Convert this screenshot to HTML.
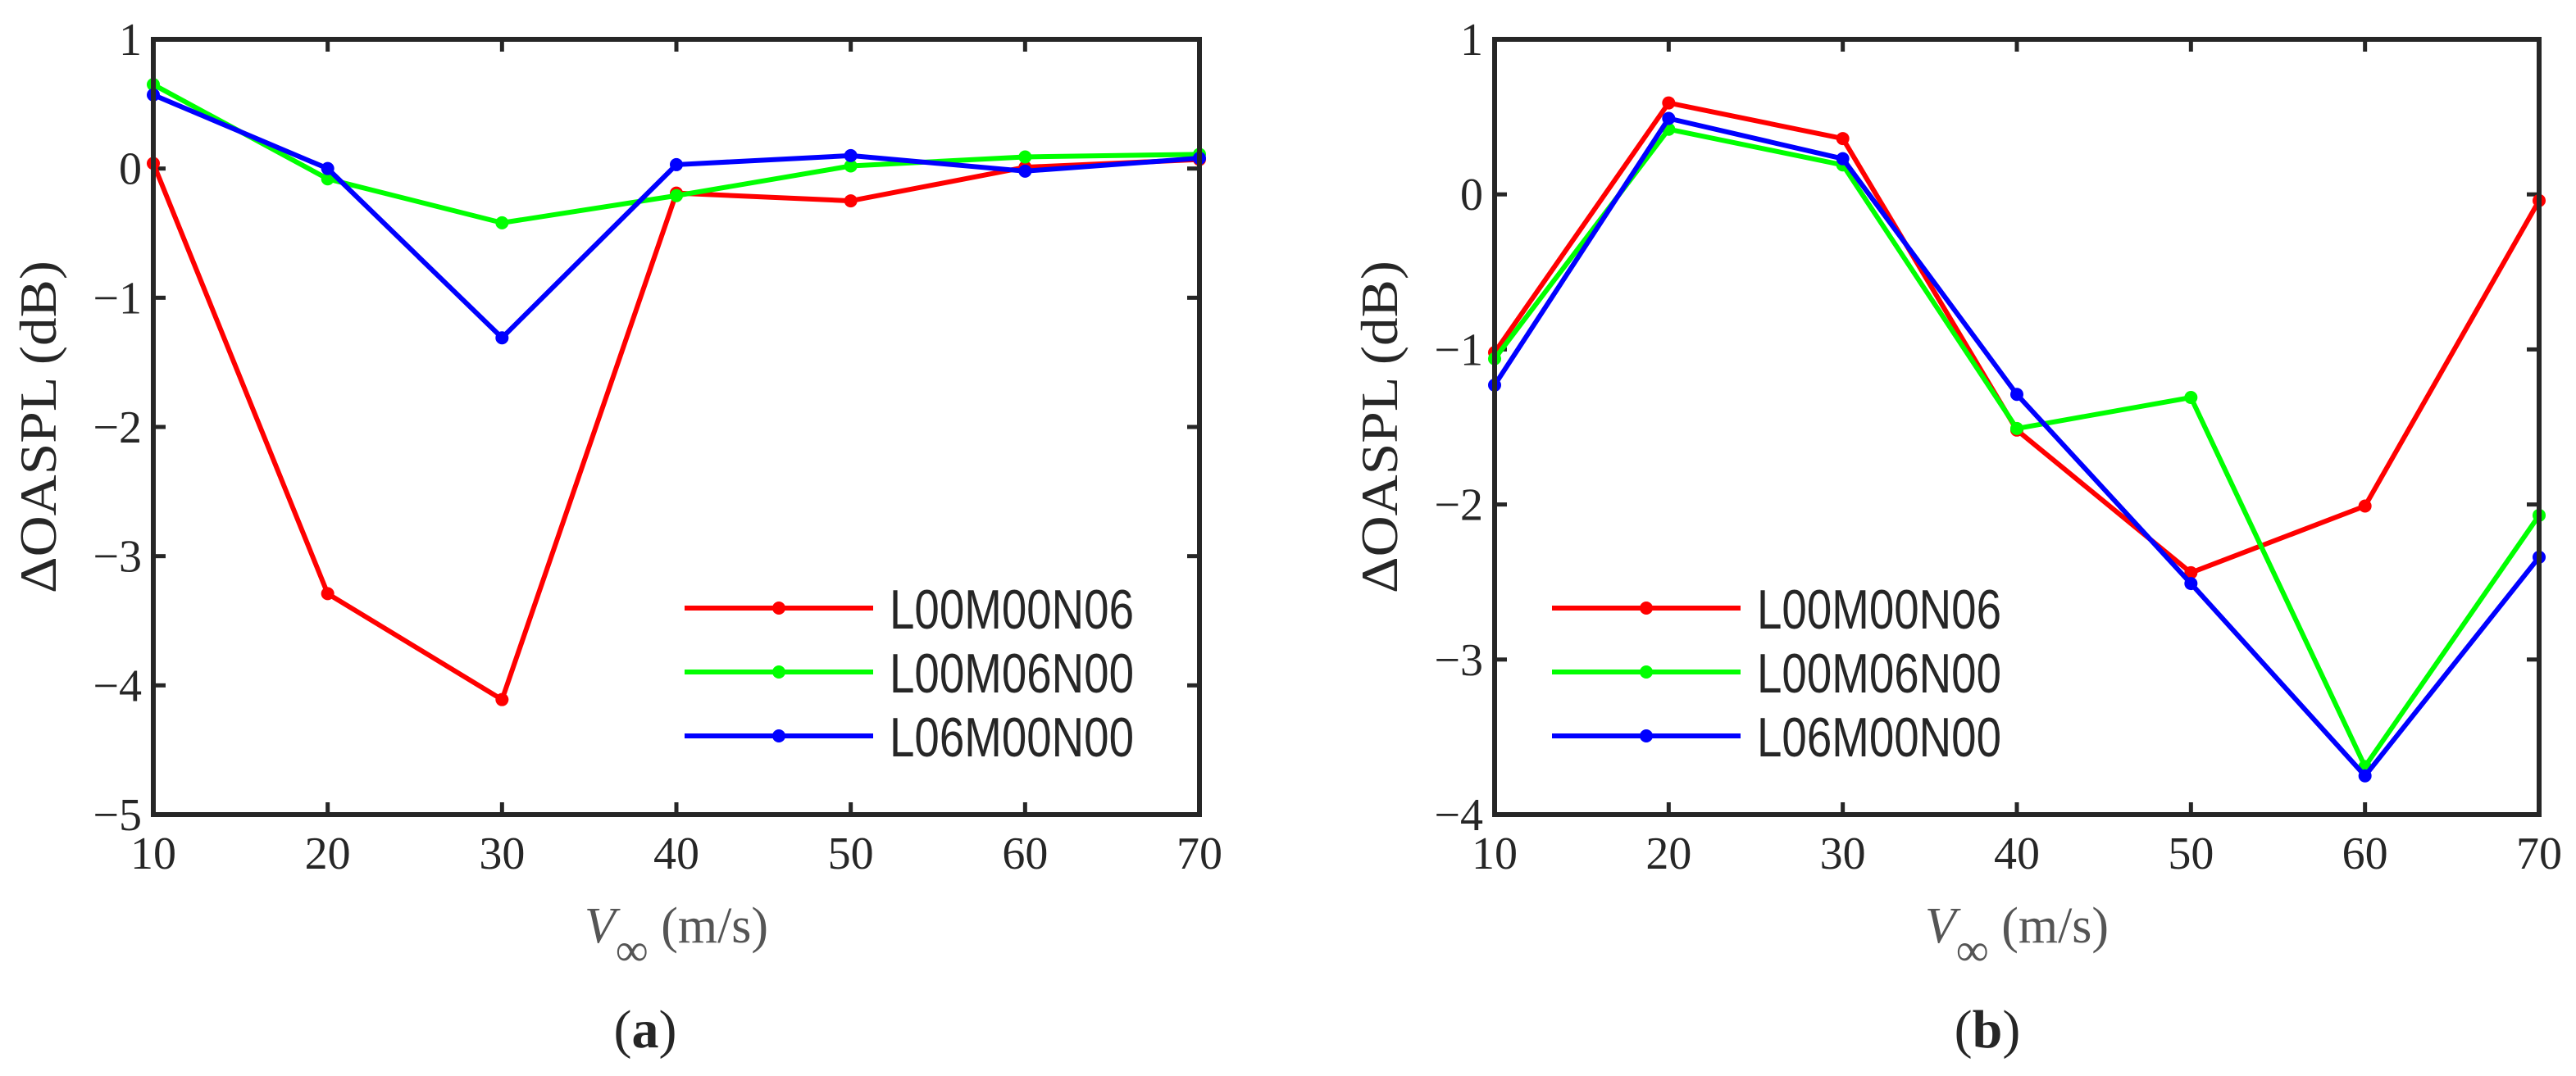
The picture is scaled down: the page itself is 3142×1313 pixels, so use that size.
<!DOCTYPE html>
<html><head><meta charset="utf-8"><style>
html,body{margin:0;padding:0;background:#fff;}
svg{display:block;}
text{fill:#262626;}
</style></head><body>
<svg id="fig" width="3142" height="1313" viewBox="0 0 3142 1313" xmlns="http://www.w3.org/2000/svg"></svg>
<script>
const categories = [10, 20, 30, 40, 50, 60, 70];
const seriesNames = ["L00M00N06", "L00M06N00", "L06M00N00"];
const seriesColors = ["#ff0000", "#00ff00", "#0000ff"];
const aRed = [0.04, -3.29, -4.11, -0.19, -0.25, 0.01, 0.07];
const aGreen = [0.65, -0.08, -0.42, -0.21, 0.02, 0.09, 0.11];
const aBlue = [0.57, 0.0, -1.31, 0.03, 0.10, -0.02, 0.08];
const bRed = [-1.02, 0.59, 0.36, -1.52, -2.44, -2.01, -0.04];
const bGreen = [-1.06, 0.42, 0.19, -1.51, -1.31, -3.69, -2.07];
const bBlue = [-1.23, 0.49, 0.23, -1.29, -2.51, -3.75, -2.34];
const aYTicks = [1, 0, -1, -2, -3, -4, -5];
const bYTicks = [1, 0, -1, -2, -3, -4];

const NS = "http://www.w3.org/2000/svg";
const svg = document.getElementById('fig');
function mk(tag, attrs, parent) {
  const e = document.createElementNS(NS, tag);
  for (const k in attrs) e.setAttribute(k, attrs[k]);
  (parent || svg).appendChild(e);
  return e;
}
function fmt(v){ return v < 0 ? "\u2212" + Math.abs(v) : String(v); }

function panel(cfg) {
  const g = mk('g', {});
  
  
  const L = cfg.x0, R = cfg.x1, T = 48, B = 994;
  const ymax = cfg.yTicks[0], ymin = cfg.yTicks[cfg.yTicks.length - 1];
  const xs = v => L + (v - categories[0]) / (categories[categories.length - 1] - categories[0]) * (R - L);
  const ys = v => T + (ymax - v) / (ymax - ymin) * (B - T);
  categories.forEach(c => {
    const t1 = mk('line', {x1: xs(c), x2: xs(c), y1: B, y2: B - 15, stroke: '#262626', 'stroke-width': 5}, g);
    
    
    mk('line', {x1: xs(c), x2: xs(c), y1: T, y2: T + 15, stroke: '#262626', 'stroke-width': 5}, g);
    const tl = mk('text', {x: xs(c), y: 1060, 'text-anchor': 'middle', 'font-family': 'Liberation Serif, serif', 'font-size': 56}, g);
    tl.textContent = c;
    
    
  });
  cfg.yTicks.forEach(v => {
    const t1 = mk('line', {x1: L, x2: L + 15, y1: ys(v), y2: ys(v), stroke: '#262626', 'stroke-width': 5}, g);
    
    
    mk('line', {x1: R, x2: R - 15, y1: ys(v), y2: ys(v), stroke: '#262626', 'stroke-width': 5}, g);
    const tl = mk('text', {x: L - 14, y: ys(v) + 19, 'text-anchor': 'end', 'font-family': 'Liberation Serif, serif', 'font-size': 56}, g);
    tl.textContent = fmt(v);
    
    
  });
  cfg.series.forEach((vals, i) => {
    const sg = mk('g', {}, g);
    
    
    const pts = vals.map((v, j) => xs(categories[j]) + ',' + ys(v)).join(' ');
    mk('polyline', {points: pts, fill: 'none', stroke: seriesColors[i], 'stroke-width': 6, 'stroke-linejoin': 'round'}, sg);
    vals.forEach((v, j) => {
      const c = mk('circle', {cx: xs(categories[j]), cy: ys(v), r: 8, fill: seriesColors[i]}, sg);
      
      
    });
  });
  const fr = mk('rect', {x: L, y: T, width: R - L, height: B - T, fill: 'none', stroke: '#262626', 'stroke-width': 6}, g);
  
  
  const lg = mk('g', {}, g);
  
  
  [742, 820, 898].forEach((yy, i) => {
    const eg = mk('g', {}, lg);
    
    
    mk('line', {x1: cfg.legX, x2: cfg.legX + 230, y1: yy, y2: yy, stroke: seriesColors[i], 'stroke-width': 6}, eg);
    mk('circle', {cx: cfg.legX + 115, cy: yy, r: 8, fill: seriesColors[i]}, eg);
    const t = mk('text', {x: cfg.legX + 250, y: yy + 25, 'font-family': 'Liberation Sans, sans-serif', 'font-size': 68, textLength: 298, lengthAdjust: 'spacingAndGlyphs'}, eg);
    t.textContent = seriesNames[i];
  });
  const yt = mk('text', {x: 0, y: 0, transform: 'translate(' + cfg.yTitleX + ',521) rotate(-90)', 'text-anchor': 'middle', 'font-family': 'Liberation Serif, serif', 'font-size': 64, textLength: 406, lengthAdjust: 'spacingAndGlyphs'}, g);
  yt.textContent = "\u0394OASPL (dB)";
  
  
  const xt = mk('text', {x: cfg.xTitleX, y: 1150, 'text-anchor': 'middle', 'font-family': 'Liberation Serif, serif', 'font-size': 62}, g);
  
  
  xt.setAttribute('style', 'fill:#555');
  const t1 = mk('tspan', {'font-style': 'italic'}, xt); t1.textContent = 'V';
  const t2 = mk('tspan', {dy: 28, 'font-size': 56}, xt); t2.textContent = '\u221E';
  const t3 = mk('tspan', {dy: -28}, xt); t3.textContent = ' (m/s)';
  const pl = mk('text', {x: cfg.labX, y: 1278, 'text-anchor': 'middle', 'font-family': 'Liberation Serif, serif', 'font-size': 66}, g);
  
  
  const p1 = mk('tspan', {}, pl); p1.textContent = '(';
  const p2 = mk('tspan', {'font-weight': 'bold'}, pl); p2.textContent = cfg.letter;
  const p3 = mk('tspan', {}, pl); p3.textContent = ')';
}

panel({name: 'panel-a', x0: 187, x1: 1463, yTicks: aYTicks, series: [aRed, aGreen, aBlue], legX: 835, yTitleX: 68, xTitleX: 825, labX: 787, letter: 'a'});
panel({name: 'panel-b', x0: 1823, x1: 3097, yTicks: bYTicks, series: [bRed, bGreen, bBlue], legX: 1893, yTitleX: 1704, xTitleX: 2460, labX: 2424, letter: 'b'});
</script>
</body></html>
